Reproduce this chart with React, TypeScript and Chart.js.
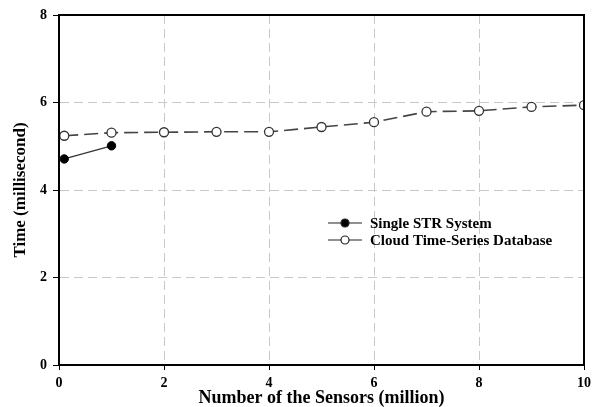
import React, { useEffect, useRef } from "react";
import { Chart, registerables } from "chart.js";

Chart.register(...registerables);

const cloudSensors = [0.1, 1, 2, 3, 4, 5, 6, 7, 8, 9, 10];
const cloudTimes = [5.24, 5.31, 5.32, 5.33, 5.33, 5.44, 5.55, 5.79, 5.81, 5.9, 5.94];
const strSensors = [0.1, 1];
const strTimes = [4.71, 5.01];
const xTicks = [0, 2, 4, 6, 8, 10];
const yTicks = [0, 2, 4, 6, 8];
const seriesNames = ["Single STR System", "Cloud Time-Series Database"];
const xTitle = "Number of the Sensors (million)";
const yTitle = "Time (millisecond)";

const FONT = "'Liberation Serif', 'Times New Roman', serif";

const framePlugin = {
  id: "frameAndLegend",
  afterDraw(chart: any) {
    const { ctx, chartArea } = chart;
    const { left, top, right, bottom } = chartArea;
    ctx.save();
    ctx.strokeStyle = "#000";
    ctx.lineWidth = 2;
    ctx.setLineDash([]);
    ctx.strokeRect(left, top, right - left, bottom - top);
    // legend inside plot
    const lx = 328;
    const rows = [223, 240];
    ctx.font = `bold 15px ${FONT}`;
    ctx.textBaseline = "middle";
    ctx.textAlign = "left";
    rows.forEach((y, i) => {
      ctx.strokeStyle = "#222";
      ctx.lineWidth = 1.2;
      ctx.beginPath();
      ctx.moveTo(lx, y);
      ctx.lineTo(lx + 34, y);
      ctx.stroke();
      ctx.beginPath();
      ctx.arc(lx + 17, y, 4, 0, Math.PI * 2);
      ctx.fillStyle = i === 0 ? "#000" : "#fff";
      ctx.fill();
      ctx.strokeStyle = "#222";
      ctx.stroke();
      ctx.fillStyle = "#000";
      ctx.fillText(seriesNames[i], lx + 42, y + 1);
    });
    ctx.restore();
  },
};

export default function App() {
  const ref = useRef<HTMLCanvasElement>(null);
  useEffect(() => {
    const canvas = ref.current!;
    const chart = new Chart(canvas, {
      type: "scatter",
      data: {
        datasets: [
          {
            label: seriesNames[0],
            data: strSensors.map((x, i) => ({ x, y: strTimes[i] })),
            showLine: true,
            borderColor: "#333",
            borderWidth: 1.2,
            pointRadius: 4.2,
            pointBackgroundColor: "#000",
            pointBorderColor: "#000",
            pointBorderWidth: 1,
          },
          {
            label: seriesNames[1],
            data: cloudSensors.map((x, i) => ({ x, y: cloudTimes[i] })),
            showLine: true,
            borderColor: "#444",
            borderWidth: 1.6,
            borderDash: [14, 6],
            pointRadius: 4.5,
            pointBackgroundColor: "#fff",
            pointBorderColor: "#333",
            pointBorderWidth: 1.3,
          },
        ],
      },
      options: {
        animation: false,
        responsive: false,
        maintainAspectRatio: false,
        layout: { padding: { top: 15, right: 10, left: 0, bottom: 0 } },
        plugins: { legend: { display: false }, tooltip: { enabled: false } },
        scales: {
          x: {
            type: "linear",
            min: 0,
            max: 10,
            afterBuildTicks: (s: any) => {
              s.ticks = xTicks.map((v) => ({ value: v }));
            },
            afterFit: (s: any) => {
              s.height = 42;
              s.paddingLeft = 0;
              s.paddingRight = 0;
            },
            ticks: {
              color: "#000",
              font: { family: FONT, size: 14, weight: "bold" },
              padding: 5,
              maxRotation: 0,
            },
            grid: {
              color: "#c8c8c8",
              lineWidth: 1,
              tickLength: 5,
              tickColor: "#000",
              tickWidth: 1,
              tickBorderDash: [],
            },
            border: { display: true, color: "#000", width: 2, dash: [9, 5] },
            title: {
              display: true,
              text: xTitle,
              color: "#000",
              font: { family: FONT, size: 18, weight: "bold", lineHeight: 1.0 },
              padding: { top: 0, bottom: 0 },
            },
          },
          y: {
            type: "linear",
            min: 0,
            max: 8,
            afterBuildTicks: (s: any) => {
              s.ticks = yTicks.map((v) => ({ value: v }));
            },
            afterFit: (s: any) => {
              s.width = 59;
              s.paddingTop = 0;
              s.paddingBottom = 0;
            },
            ticks: {
              color: "#000",
              font: { family: FONT, size: 14, weight: "bold" },
              padding: 6,
            },
            grid: {
              color: "#c8c8c8",
              lineWidth: 1,
              tickLength: 6,
              tickColor: "#000",
              tickWidth: 1,
              tickBorderDash: [],
            },
            border: { display: true, color: "#000", width: 2, dash: [9, 5] },
            title: {
              display: true,
              text: yTitle,
              color: "#000",
              font: { family: FONT, size: 17, weight: "bold" },
              padding: { top: 10, bottom: 0 },
            },
          },
        },
      },
      plugins: [framePlugin],
    } as any);
    return () => chart.destroy();
  }, []);
  return (
    <div style={{ position: "fixed", left: 0, top: 0, width: 594, height: 407, background: "#fff" }}>
      <canvas ref={ref} width={594} height={407} style={{ width: 594, height: 407 }} />
    </div>
  );
}
